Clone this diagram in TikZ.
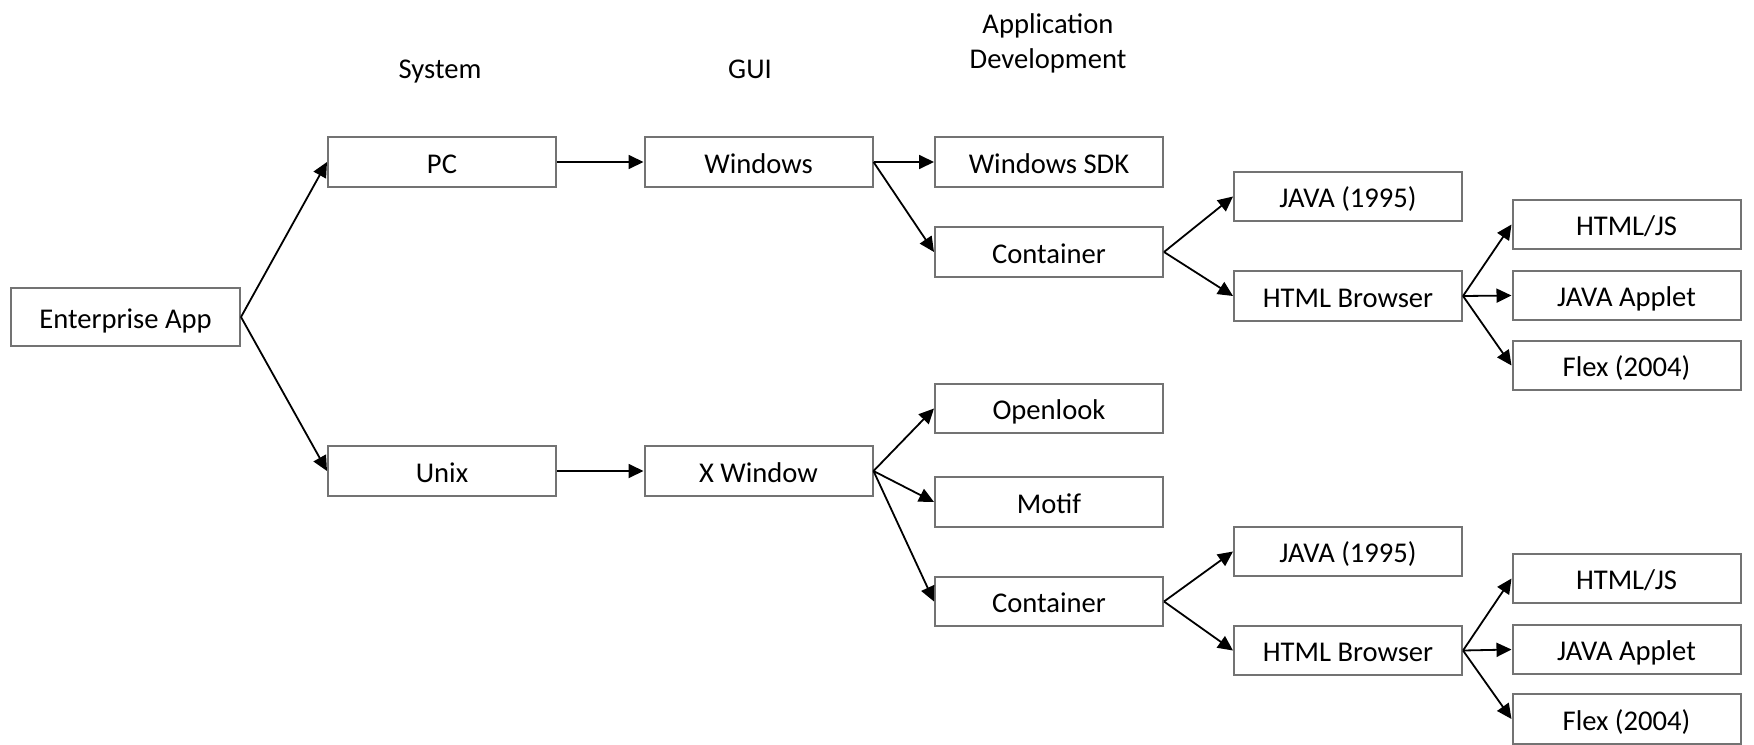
\documentclass[tikz,border=0pt]{standalone}
\usepackage{fontspec}
\setmainfont{Carlito}
\usetikzlibrary{arrows.meta}
\begin{document}
\begin{tikzpicture}[x=0.5pt,y=-0.5pt,
  box/.style={draw=black!55,line width=1pt,fill=white,minimum width=114pt,minimum height=24.8pt,inner sep=0pt,text height=12pt,text depth=0.8pt,font=\fontsize{14.3}{17.5}\selectfont},
  lbl/.style={inner sep=0pt,align=center,anchor=base,font=\fontsize{14.3}{17.5}\selectfont},
  conn/.style={draw=black,line width=0.9pt,-{Triangle[length=7.5pt,width=7pt]}}]
\useasboundingbox (0,0) rectangle (1754,744);
% headers
\node[lbl] (hsys) at (440,78) {System};
\node[lbl] (hgui) at (750,78) {GUI};
\node[lbl] (happ) at (1048,33) {Application};
\node[lbl] (hdev) at (1048,68) {Development};
% nodes
\node[box,minimum width=114.5pt,minimum height=29pt] (ent) at (125.5,317) {Enterprise App};
\node[box] (pc) at (442,162) {PC};
\node[box] (unix) at (442,471) {Unix};
\node[box] (win) at (758.5,162) {Windows};
\node[box] (xwin) at (758.5,471) {X Window};
\node[box] (sdk) at (1049,162) {Windows SDK};
\node[box] (cont1) at (1049,252) {Container};
\node[box] (open) at (1049,408.5) {Openlook};
\node[box] (motif) at (1049,502) {Motif};
\node[box] (cont2) at (1049,601.5) {Container};
\node[box] (java1) at (1348,196.5) {JAVA (1995)};
\node[box] (html1) at (1348,296) {HTML Browser};
\node[box] (js1) at (1626.5,224.5) {HTML/JS};
\node[box] (app1) at (1626.5,295.5) {JAVA Applet};
\node[box] (flex1) at (1626.5,365.5) {Flex (2004)};
\node[box] (java2) at (1348,551.5) {JAVA (1995)};
\node[box] (html2) at (1348,650.5) {HTML Browser};
\node[box] (js2) at (1626.5,578.5) {HTML/JS};
\node[box] (app2) at (1626.5,649.5) {JAVA Applet};
\node[box] (flex2) at (1626.5,719) {Flex (2004)};
% connectors
\draw[conn] (ent.east) -- (pc.west);
\draw[conn] (ent.east) -- (unix.west);
\draw[conn] (pc.east) -- (win.west);
\draw[conn] (unix.east) -- (xwin.west);
\draw[conn] (win.east) -- (sdk.west);
\draw[conn] (win.east) -- (cont1.west);
\draw[conn] (xwin.east) -- (open.west);
\draw[conn] (xwin.east) -- (motif.west);
\draw[conn] (xwin.east) -- (cont2.west);
\draw[conn] (cont1.east) -- (java1.west);
\draw[conn] (cont1.east) -- (html1.west);
\draw[conn] (html1.east) -- (js1.west);
\draw[conn] (html1.east) -- (app1.west);
\draw[conn] (html1.east) -- (flex1.west);
\draw[conn] (cont2.east) -- (java2.west);
\draw[conn] (cont2.east) -- (html2.west);
\draw[conn] (html2.east) -- (js2.west);
\draw[conn] (html2.east) -- (app2.west);
\draw[conn] (html2.east) -- (flex2.west);
\end{tikzpicture}
\end{document}
